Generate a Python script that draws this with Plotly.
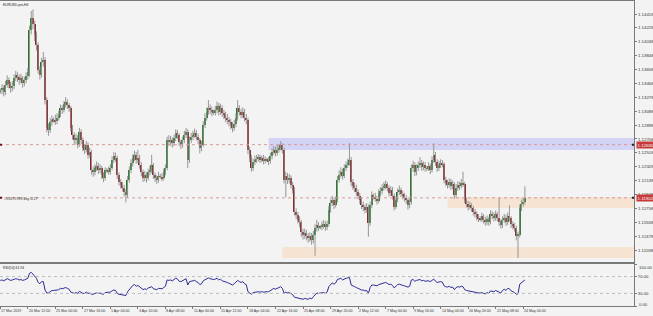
import plotly.graph_objects as go
import pandas as pd

# ---------------- data (EURUSD H4, one Sunday bar per week) ----------------
opens = [
 1.1336,
 1.1338,1.1340,1.1335,1.1345,1.1351,1.1346,
 1.1340,1.1343,1.1354,1.1358,1.1355,1.1351,
 1.1354,1.1348,1.1351,1.1357,1.1362,1.1420,
 1.1436,1.1428,1.1413,1.1399,1.1365,1.1358,
 1.1376,1.1379,1.1324,1.1286,1.1283,1.1294,
 1.1297,
 1.1296,1.1295,1.1300,1.1304,1.1313,1.1310,
 1.1318,1.1321,1.1317,1.1313,1.1286,1.1276,
 1.1269,1.1272,1.1263,1.1280,1.1269,1.1259,
 1.1256,1.1263,1.1249,1.1253,1.1228,1.1225,
 1.1231,1.1234,1.1228,1.1231,1.1221,1.1217,
 1.1228,
 1.1227,1.1226,1.1231,1.1242,1.1247,1.1245,
 1.1221,1.1212,1.1208,1.1204,1.1198,1.1194,
 1.1215,1.1228,1.1238,1.1245,1.1249,1.1242,
 1.1245,1.1235,1.1225,1.1217,1.1221,1.1217,
 1.1225,1.1228,1.1235,1.1221,1.1217,1.1215,
 1.1220,
 1.1219,1.1217,1.1225,1.1231,1.1269,1.1267,
 1.1269,1.1265,1.1272,1.1279,1.1276,1.1266,
 1.1263,1.1269,1.1276,1.1280,1.1242,1.1269,
 1.1273,1.1276,1.1279,1.1274,1.1269,1.1258,
 1.1263,1.1290,1.1300,1.1308,1.1313,1.1310,
 1.1308,
 1.1307,1.1310,1.1316,1.1308,1.1313,1.1306,
 1.1304,1.1300,1.1297,1.1294,1.1290,1.1286,
 1.1291,1.1300,1.1313,1.1308,1.1304,1.1308,
 1.1300,1.1297,1.1256,1.1245,1.1231,1.1239,
 1.1242,1.1244,1.1246,1.1242,1.1245,1.1240,
 1.1243,
 1.1242,1.1240,1.1247,1.1253,1.1256,1.1252,
 1.1256,1.1259,1.1262,1.1256,1.1215,1.1220,
 1.1215,1.1217,1.1208,1.1201,1.1171,1.1167,
 1.1160,1.1157,1.1143,1.1139,1.1142,1.1138,
 1.1135,1.1138,1.1132,1.1139,1.1149,1.1153,
 1.1150,
 1.1151,1.1152,1.1154,1.1150,1.1154,1.1174,
 1.1183,1.1187,1.1180,1.1187,1.1215,1.1222,
 1.1226,1.1220,1.1231,1.1235,1.1238,1.1242,
 1.1212,1.1206,1.1204,1.1198,1.1193,1.1187,
 1.1180,1.1177,1.1174,1.1178,1.1156,1.1180,
 1.1194,
 1.1192,1.1189,1.1186,1.1197,1.1199,1.1204,
 1.1206,1.1209,1.1204,1.1197,1.1201,1.1193,
 1.1178,1.1187,1.1198,1.1201,1.1196,1.1193,
 1.1190,1.1187,1.1180,1.1184,1.1231,1.1235,
 1.1225,1.1231,1.1235,1.1238,1.1232,1.1235,
 1.1231,
 1.1230,1.1234,1.1228,1.1242,1.1249,1.1239,
 1.1231,1.1235,1.1238,1.1236,1.1215,1.1211,
 1.1208,1.1212,1.1206,1.1209,1.1194,1.1204,
 1.1208,1.1206,1.1211,1.1209,1.1187,1.1182,
 1.1178,1.1180,1.1176,1.1171,1.1168,1.1164,
 1.1162,
 1.1160,1.1165,1.1160,1.1157,1.1161,1.1157,
 1.1168,1.1166,1.1163,1.1168,1.1163,1.1157,
 1.1153,1.1160,1.1163,1.1157,1.1165,1.1162,
 1.1154,1.1152,1.1149,1.1138,1.1140,1.1176,
 1.1182,1.1185,
]
highs = [
 1.1340,
 1.1346,1.1344,1.1350,1.1358,1.1355,1.1349,
 1.1350,1.1359,1.1364,1.1362,1.1359,1.1360,
 1.1357,1.1356,1.1362,1.1368,1.1426,1.1446,
 1.1448,1.1433,1.1418,1.1403,1.1370,1.1382,
 1.1390,1.1383,1.1328,1.1292,1.1299,1.1303,
 1.1300,
 1.1304,1.1306,1.1309,1.1318,1.1317,1.1323,
 1.1328,1.1325,1.1320,1.1316,1.1290,1.1280,
 1.1278,1.1276,1.1286,1.1284,1.1273,1.1264,
 1.1268,1.1266,1.1259,1.1256,1.1233,1.1236,
 1.1240,1.1238,1.1236,1.1234,1.1225,1.1232,
 1.1231,
 1.1233,1.1236,1.1247,1.1253,1.1252,1.1248,
 1.1225,1.1216,1.1212,1.1208,1.1202,1.1220,
 1.1233,1.1243,1.1250,1.1255,1.1253,1.1256,
 1.1249,1.1239,1.1229,1.1227,1.1225,1.1230,
 1.1234,1.1249,1.1238,1.1225,1.1221,1.1226,
 1.1223,
 1.1224,1.1230,1.1236,1.1274,1.1276,1.1275,
 1.1273,1.1277,1.1284,1.1283,1.1279,1.1270,
 1.1274,1.1282,1.1286,1.1284,1.1274,1.1279,
 1.1282,1.1285,1.1283,1.1278,1.1272,1.1268,
 1.1295,1.1306,1.1314,1.1324,1.1318,1.1315,
 1.1311,
 1.1316,1.1322,1.1320,1.1319,1.1317,1.1311,
 1.1308,1.1305,1.1301,1.1298,1.1294,1.1297,
 1.1306,1.1324,1.1317,1.1312,1.1314,1.1312,
 1.1305,1.1300,1.1260,1.1249,1.1244,1.1248,
 1.1249,1.1250,1.1249,1.1248,1.1249,1.1247,
 1.1245,
 1.1246,1.1252,1.1258,1.1261,1.1260,1.1262,
 1.1264,1.1268,1.1265,1.1259,1.1226,1.1224,
 1.1223,1.1221,1.1212,1.1205,1.1176,1.1171,
 1.1165,1.1160,1.1148,1.1148,1.1146,1.1142,
 1.1143,1.1142,1.1145,1.1154,1.1160,1.1157,
 1.1153,
 1.1158,1.1160,1.1158,1.1159,1.1179,1.1188,
 1.1193,1.1191,1.1192,1.1220,1.1228,1.1232,
 1.1230,1.1236,1.1240,1.1244,1.1265,1.1246,
 1.1216,1.1211,1.1208,1.1202,1.1197,1.1191,
 1.1185,1.1181,1.1183,1.1181,1.1185,1.1199,
 1.1196,
 1.1197,1.1193,1.1202,1.1205,1.1209,1.1212,
 1.1214,1.1212,1.1207,1.1206,1.1205,1.1196,
 1.1192,1.1203,1.1207,1.1204,1.1200,1.1197,
 1.1194,1.1190,1.1189,1.1236,1.1241,1.1239,
 1.1236,1.1240,1.1246,1.1242,1.1240,1.1239,
 1.1234,
 1.1239,1.1237,1.1247,1.1265,1.1253,1.1243,
 1.1241,1.1243,1.1242,1.1239,1.1219,1.1215,
 1.1217,1.1216,1.1214,1.1212,1.1209,1.1213,
 1.1212,1.1216,1.1226,1.1212,1.1191,1.1186,
 1.1185,1.1183,1.1179,1.1175,1.1172,1.1168,
 1.1165,
 1.1170,1.1168,1.1164,1.1166,1.1164,1.1173,
 1.1172,1.1170,1.1173,1.1171,1.1190,1.1161,
 1.1165,1.1168,1.1167,1.1170,1.1180,1.1165,
 1.1158,1.1156,1.1152,1.1144,1.1181,1.1188,
 1.1190,1.1206,
]
lows = [
 1.1333,
 1.1332,1.1329,1.1331,1.1341,1.1340,1.1334,
 1.1336,1.1339,1.1350,1.1349,1.1345,1.1347,
 1.1341,1.1343,1.1347,1.1352,1.1356,1.1414,
 1.1421,1.1405,1.1392,1.1360,1.1352,1.1355,
 1.1370,1.1318,1.1280,1.1275,1.1279,1.1289,
 1.1293,
 1.1290,1.1291,1.1296,1.1301,1.1305,1.1307,
 1.1314,1.1312,1.1308,1.1281,1.1270,1.1264,
 1.1263,1.1258,1.1260,1.1264,1.1254,1.1250,
 1.1252,1.1244,1.1245,1.1222,1.1219,1.1221,
 1.1227,1.1223,1.1224,1.1216,1.1212,1.1214,
 1.1224,
 1.1222,1.1222,1.1228,1.1238,1.1240,1.1216,
 1.1207,1.1203,1.1199,1.1192,1.1184,1.1190,
 1.1211,1.1224,1.1233,1.1241,1.1237,1.1238,
 1.1230,1.1220,1.1212,1.1213,1.1211,1.1214,
 1.1221,1.1224,1.1216,1.1212,1.1209,1.1211,
 1.1216,
 1.1213,1.1214,1.1221,1.1228,1.1261,1.1262,
 1.1259,1.1261,1.1268,1.1271,1.1261,1.1257,
 1.1259,1.1265,1.1272,1.1231,1.1238,1.1265,
 1.1269,1.1272,1.1269,1.1264,1.1251,1.1254,
 1.1260,1.1286,1.1296,1.1304,1.1305,1.1302,
 1.1304,
 1.1303,1.1306,1.1303,1.1304,1.1301,1.1298,
 1.1294,1.1291,1.1288,1.1284,1.1280,1.1282,
 1.1287,1.1296,1.1303,1.1299,1.1300,1.1295,
 1.1291,1.1250,1.1239,1.1226,1.1227,1.1235,
 1.1238,1.1240,1.1238,1.1239,1.1236,1.1237,
 1.1240,
 1.1235,1.1237,1.1243,1.1249,1.1247,1.1248,
 1.1252,1.1255,1.1251,1.1210,1.1191,1.1209,
 1.1210,1.1203,1.1196,1.1166,1.1161,1.1155,
 1.1150,1.1137,1.1133,1.1134,1.1132,1.1129,
 1.1130,1.1126,1.1128,1.1111,1.1144,1.1145,
 1.1147,
 1.1146,1.1148,1.1145,1.1146,1.1151,1.1170,
 1.1179,1.1175,1.1177,1.1184,1.1211,1.1218,
 1.1215,1.1217,1.1227,1.1231,1.1234,1.1206,
 1.1201,1.1198,1.1193,1.1188,1.1182,1.1175,
 1.1172,1.1169,1.1170,1.1137,1.1152,1.1176,
 1.1188,
 1.1185,1.1181,1.1183,1.1192,1.1195,1.1200,
 1.1202,1.1199,1.1192,1.1193,1.1188,1.1173,
 1.1175,1.1184,1.1194,1.1191,1.1188,1.1185,
 1.1182,1.1174,1.1176,1.1181,1.1226,1.1220,
 1.1221,1.1227,1.1231,1.1227,1.1228,1.1226,
 1.1227,
 1.1227,1.1223,1.1225,1.1238,1.1234,1.1226,
 1.1227,1.1231,1.1232,1.1210,1.1206,1.1203,
 1.1204,1.1201,1.1202,1.1189,1.1191,1.1200,
 1.1201,1.1203,1.1205,1.1183,1.1177,1.1173,
 1.1174,1.1171,1.1166,1.1163,1.1159,1.1157,
 1.1158,
 1.1157,1.1155,1.1152,1.1153,1.1152,1.1154,
 1.1161,1.1158,1.1159,1.1158,1.1152,1.1148,
 1.1149,1.1156,1.1152,1.1153,1.1158,1.1149,
 1.1147,1.1144,1.1132,1.1108,1.1136,1.1172,
 1.1178,1.1181,
]
closes = [
 1.1338,
 1.1340,1.1335,1.1345,1.1351,1.1346,1.1340,
 1.1343,1.1354,1.1358,1.1355,1.1351,1.1354,
 1.1348,1.1351,1.1357,1.1362,1.1420,1.1436,
 1.1428,1.1413,1.1399,1.1365,1.1358,1.1376,
 1.1379,1.1324,1.1286,1.1283,1.1294,1.1297,
 1.1296,
 1.1295,1.1300,1.1304,1.1313,1.1310,1.1318,
 1.1321,1.1317,1.1313,1.1286,1.1276,1.1269,
 1.1272,1.1263,1.1280,1.1269,1.1259,1.1256,
 1.1263,1.1249,1.1253,1.1228,1.1225,1.1231,
 1.1234,1.1228,1.1231,1.1221,1.1217,1.1228,
 1.1227,
 1.1226,1.1231,1.1242,1.1247,1.1245,1.1221,
 1.1212,1.1208,1.1204,1.1198,1.1194,1.1215,
 1.1228,1.1238,1.1245,1.1249,1.1242,1.1245,
 1.1235,1.1225,1.1217,1.1221,1.1217,1.1225,
 1.1228,1.1235,1.1221,1.1217,1.1215,1.1220,
 1.1219,
 1.1217,1.1225,1.1231,1.1269,1.1267,1.1269,
 1.1265,1.1272,1.1279,1.1276,1.1266,1.1263,
 1.1269,1.1276,1.1280,1.1242,1.1269,1.1273,
 1.1276,1.1279,1.1274,1.1269,1.1258,1.1263,
 1.1290,1.1300,1.1308,1.1313,1.1310,1.1308,
 1.1307,
 1.1310,1.1316,1.1308,1.1313,1.1306,1.1304,
 1.1300,1.1297,1.1294,1.1290,1.1286,1.1291,
 1.1300,1.1313,1.1308,1.1304,1.1308,1.1300,
 1.1297,1.1256,1.1245,1.1231,1.1239,1.1242,
 1.1244,1.1246,1.1242,1.1245,1.1240,1.1243,
 1.1242,
 1.1240,1.1247,1.1253,1.1256,1.1252,1.1256,
 1.1259,1.1262,1.1256,1.1215,1.1220,1.1215,
 1.1217,1.1208,1.1201,1.1171,1.1167,1.1160,
 1.1157,1.1143,1.1139,1.1142,1.1138,1.1135,
 1.1138,1.1132,1.1139,1.1149,1.1153,1.1150,
 1.1151,
 1.1152,1.1154,1.1150,1.1154,1.1174,1.1183,
 1.1187,1.1180,1.1187,1.1215,1.1222,1.1226,
 1.1220,1.1231,1.1235,1.1238,1.1242,1.1212,
 1.1206,1.1204,1.1198,1.1193,1.1187,1.1180,
 1.1177,1.1174,1.1178,1.1156,1.1180,1.1194,
 1.1192,
 1.1189,1.1186,1.1197,1.1199,1.1204,1.1206,
 1.1209,1.1204,1.1197,1.1201,1.1193,1.1178,
 1.1187,1.1198,1.1201,1.1196,1.1193,1.1190,
 1.1187,1.1180,1.1184,1.1231,1.1235,1.1225,
 1.1231,1.1235,1.1238,1.1232,1.1235,1.1231,
 1.1230,
 1.1234,1.1228,1.1242,1.1249,1.1239,1.1231,
 1.1235,1.1238,1.1236,1.1215,1.1211,1.1208,
 1.1212,1.1206,1.1209,1.1194,1.1204,1.1208,
 1.1206,1.1211,1.1209,1.1187,1.1182,1.1178,
 1.1180,1.1176,1.1171,1.1168,1.1164,1.1162,
 1.1160,
 1.1165,1.1160,1.1157,1.1161,1.1157,1.1168,
 1.1166,1.1163,1.1168,1.1163,1.1157,1.1153,
 1.1160,1.1163,1.1157,1.1165,1.1162,1.1154,
 1.1152,1.1149,1.1138,1.1140,1.1176,1.1182,
 1.1185,1.11902,
]
rsi = [
 61,
 62,60,63,65,63,61, 62,64,65,64,62,63, 61,62,64,66,78,80,
 76,70,66,56,53,58, 58,38,31,31,35,37,
 37,
 37,38,39,42,41,43, 44,42,40,33,31,30, 32,30,35,32,30,30,
 33,30,31,28,28,30, 31,30,31,29,28,32,
 32,
 32,33,36,38,37,30, 28,27,27,26,25,34, 40,45,49,51,47,49,
 45,42,39,41,39,43, 44,46,41,40,39,42,
 42,
 41,44,47,62,61,62, 60,63,66,64,59,58, 61,64,65,50,58,59,
 60,61,58,56,51,53, 60,63,66,67,65,64,
 63,
 64,66,62,64,60,59, 57,56,54,52,50,53, 56,61,58,56,58,53,
 51,34,31,28,32,33, 33,34,33,34,33,34,
 34,
 34,37,40,42,40,42, 44,46,42,30,33,31, 32,29,27,21,20,19,
 19,17,16,18,17,16, 19,17,22,28,31,30,
 31,
 31,32,30,33,46,52, 55,52,55,63,65,66, 62,65,66,67,68,50,
 47,46,44,42,40,38, 38,36,37,30,44,50,
 50,
 49,48,51,52,54,55, 56,54,51,52,49,43, 47,51,52,50,49,48,
 47,45,47,62,63,59, 61,62,63,60,61,59,
 59,
 60,58,62,64,59,56, 57,58,57,48,46,45, 47,44,45,39,44,46,
 45,47,46,39,37,36, 36,35,33,32,31,31,
 31,
 32,30,29,32,30,36, 35,34,37,35,32,31, 37,40,37,42,41,36,
 34,32,28,29,52,55, 57,61.94,
]

tick_times = ["2019-03-17 20:00", "2019-03-20 12:00", "2019-03-25 00:00", "2019-03-27 16:00",
              "2019-04-01 04:00", "2019-04-03 20:00", "2019-04-08 08:00", "2019-04-11 00:00",
              "2019-04-15 12:00", "2019-04-18 04:00", "2019-04-22 16:00", "2019-04-25 08:00",
              "2019-04-29 20:00", "2019-05-02 12:00", "2019-05-07 00:00", "2019-05-09 16:00",
              "2019-05-14 04:00", "2019-05-16 20:00", "2019-05-21 08:00", "2019-05-24 00:00"]
tick_labels = ["17 Mar 2019", "20 Mar 12:00", "25 Mar 00:00", "27 Mar 16:00", "1 Apr 04:00",
               "3 Apr 20:00", "8 Apr 08:00", "11 Apr 00:00", "15 Apr 12:00", "18 Apr 04:00",
               "22 Apr 16:00", "25 Apr 08:00", "29 Apr 20:00", "2 May 12:00", "7 May 00:00",
               "9 May 16:00", "14 May 04:00", "16 May 20:00", "21 May 08:00", "24 May 00:00"]

price_ticks = [1.11188, 1.11378, 1.11568, 1.11758, 1.11948, 1.12138, 1.12328, 1.12518, 1.12708,
               1.12898, 1.13088, 1.13278, 1.13468, 1.13658, 1.13848, 1.14038, 1.14228, 1.14418]

zone_tops = [1.12721, 1.11914, 1.11229]
zone_bottoms = [1.12557, 1.11763, 1.11078]
zone_starts = ["2019-04-22 00:00", "2019-05-14 20:00", "2019-04-23 08:00"]
zone_colors = ["#d3d3f5", "#f6e3d2", "#f6e3d2"]

order_price = 1.11902
tp_price = 1.12630
order_text = "#13675789 buy 0.27"
title_text = "EURUSD.pro,H4"

# ---------------- geometry ----------------
W, H = 653, 316
n = len(closes)
assert len(opens) == len(highs) == len(lows) == n == len(rsi)

days = pd.bdate_range("2019-03-18", "2019-05-24")
times = []
for d in days:
    if d.weekday() == 0:
        times.append(d - pd.Timedelta(hours=4))
    for h in range(0, 24, 4):
        times.append(d + pd.Timedelta(hours=h))
times = times[:n]
tindex = {t: i for i, t in enumerate(times)}
idx = list(range(n))

PLOT_R = 634
PX_BAR = 1.72
X0 = 0.3
xr = [-X0 / PX_BAR, (PLOT_R - X0) / PX_BAR]

PX_PRICE = 0.0001369
def p_of(py):
    return 1.11188 + (250 - py) * PX_PRICE
yr = [p_of(262), p_of(1)]

def pyp(py):
    return 1 - py / H

FONT = "Liberation Sans, Arial, sans-serif"
BG = "#f3f3f3"
AXC = "#7a7a7a"
TXT = "#333333"

# ---------------- traces ----------------
wx, wy = [], []
for i in idx:
    wx += [i, i, None]
    wy += [lows[i], highs[i], None]

body_base = [min(o, c) for o, c in zip(opens, closes)]
body_h = [max(abs(c - o), 0.00003) for o, c in zip(opens, closes)]
body_col = ["#1f7a1f" if c >= o else "#8a1c1c" for o, c in zip(opens, closes)]

fig = go.Figure()
fig.add_trace(go.Scatter(x=wx, y=wy, mode="lines", line=dict(color="#969696", width=1),
                         hoverinfo="skip", xaxis="x", yaxis="y"))
fig.add_trace(go.Bar(x=idx, y=body_h, base=body_base, marker=dict(color=body_col, line=dict(width=0)),
                     width=0.8, hoverinfo="skip", xaxis="x", yaxis="y"))
fig.add_trace(go.Scatter(x=idx, y=rsi, mode="lines", line=dict(color="#2c2c96", width=1),
                         hoverinfo="skip", xaxis="x2", yaxis="y2"))

# ---------------- shapes ----------------
shapes = []
for top, bot, st, col in zip(zone_tops, zone_bottoms, zone_starts, zone_colors):
    shapes.append(dict(type="rect", xref="x", yref="y", x0=tindex[pd.Timestamp(st)], x1=xr[1],
                       y0=bot, y1=top, fillcolor=col, line=dict(width=0), layer="below"))
for lv in (tp_price, order_price):
    shapes.append(dict(type="line", xref="paper", yref="y", x0=0, x1=PLOT_R / W, y0=lv, y1=lv,
                       line=dict(color="#d79a9a", width=1, dash="dot")))
    shapes.append(dict(type="rect", xref="paper", yref="y", x0=0, x1=2 / W,
                       y0=lv - PX_PRICE, y1=lv + PX_PRICE, fillcolor="#7a1010", line=dict(width=0)))
    shapes.append(dict(type="rect", xref="paper", yref="y", x0=(PLOT_R - 2) / W, x1=PLOT_R / W,
                       y0=lv - PX_PRICE, y1=lv + PX_PRICE, fillcolor="#202020", line=dict(width=0)))
for lv in (70, 30):
    shapes.append(dict(type="line", xref="paper", yref="y2", x0=0, x1=PLOT_R / W, y0=lv, y1=lv,
                       line=dict(color="#bcbcbc", width=1, dash="dot")))

# ---------------- annotations ----------------
ann = []
tick_pos = [tindex[pd.Timestamp(t)] for t in tick_times]
for k, (pos, lab) in enumerate(zip(tick_pos, tick_labels)):
    ann.append(dict(xref="x2", yref="paper", x=pos, y=pyp(311), text=lab, showarrow=False,
                    xanchor="left", yanchor="middle", xshift=0, borderpad=0,
                    font=dict(family=FONT, size=3.6, color=TXT)))
for lv, txt in ((tp_price, f"{tp_price:.5f}"), (order_price, f"{order_price:.5f}")):
    ann.append(dict(xref="paper", yref="y", x=635.5 / W, y=lv, text=txt, showarrow=False,
                    xanchor="left", yanchor="middle", bgcolor="#c63a3a", borderpad=0.6,
                    font=dict(family=FONT, size=4.4, color="white")))
ann.append(dict(xref="paper", yref="paper", x=2 / W, y=pyp(5), text=title_text, showarrow=False,
                xanchor="left", yanchor="middle", borderpad=0, font=dict(family=FONT, size=3.4, color="#222")))
ann.append(dict(xref="paper", yref="y", x=3 / W, y=order_price, yshift=-1, text=order_text,
                showarrow=False, xanchor="left", yanchor="middle", borderpad=0,
                font=dict(family=FONT, size=3.7, color=TXT)))
ann.append(dict(xref="paper", yref="paper", x=2 / W, y=pyp(268), text=f"RSI(14) {rsi[-1]:.2f}",
                showarrow=False, xanchor="left", yanchor="middle", borderpad=0,
                font=dict(family=FONT, size=3.4, color="#222")))
for py, txt in ((267, "100.00"), (304.5, "0.00")):
    ann.append(dict(xref="paper", yref="paper", x=637.5 / W, y=pyp(py), text=txt, showarrow=False,
                    xanchor="left", yanchor="middle", borderpad=0,
                    font=dict(family=FONT, size=4.2, color=TXT)))

# ---------------- layout ----------------
fig.update_layout(
    width=W, height=H, margin=dict(l=0, r=0, t=0, b=0),
    paper_bgcolor=BG, plot_bgcolor=BG, showlegend=False, bargap=0,
    xaxis=dict(domain=[0, PLOT_R / W], range=xr, showticklabels=False, showgrid=False, zeroline=False,
               showline=True, linecolor=AXC, linewidth=1, mirror=True, ticks="", fixedrange=True),
    yaxis=dict(domain=[pyp(262), pyp(1)], range=yr, side="right", showgrid=False, zeroline=False,
               showline=True, linecolor=AXC, linewidth=1, ticks="outside", ticklen=2, tickcolor=AXC,
               tickvals=price_ticks, ticktext=[f"{v:.5f}" for v in price_ticks],
               tickfont=dict(family=FONT, size=4.4, color=TXT)),
    xaxis2=dict(domain=[0, PLOT_R / W], range=xr, anchor="y2", showticklabels=False, showgrid=False,
                zeroline=False, showline=True, linecolor=AXC, linewidth=1, mirror=True,
                ticks="outside", ticklen=2, tickcolor=AXC, tickvals=tick_pos),
    yaxis2=dict(domain=[pyp(306), pyp(264)], range=[0, 100], side="right", anchor="x2", showgrid=False,
                zeroline=False, showline=True, linecolor=AXC, linewidth=1, ticks="outside", ticklen=2,
                tickcolor=AXC, tickvals=[100, 70, 30, 0], ticktext=["", "70.00", "30.00", ""],
                tickfont=dict(family=FONT, size=4.2, color=TXT)),
    shapes=shapes, annotations=ann,
)

fig.write_html("out.html")
